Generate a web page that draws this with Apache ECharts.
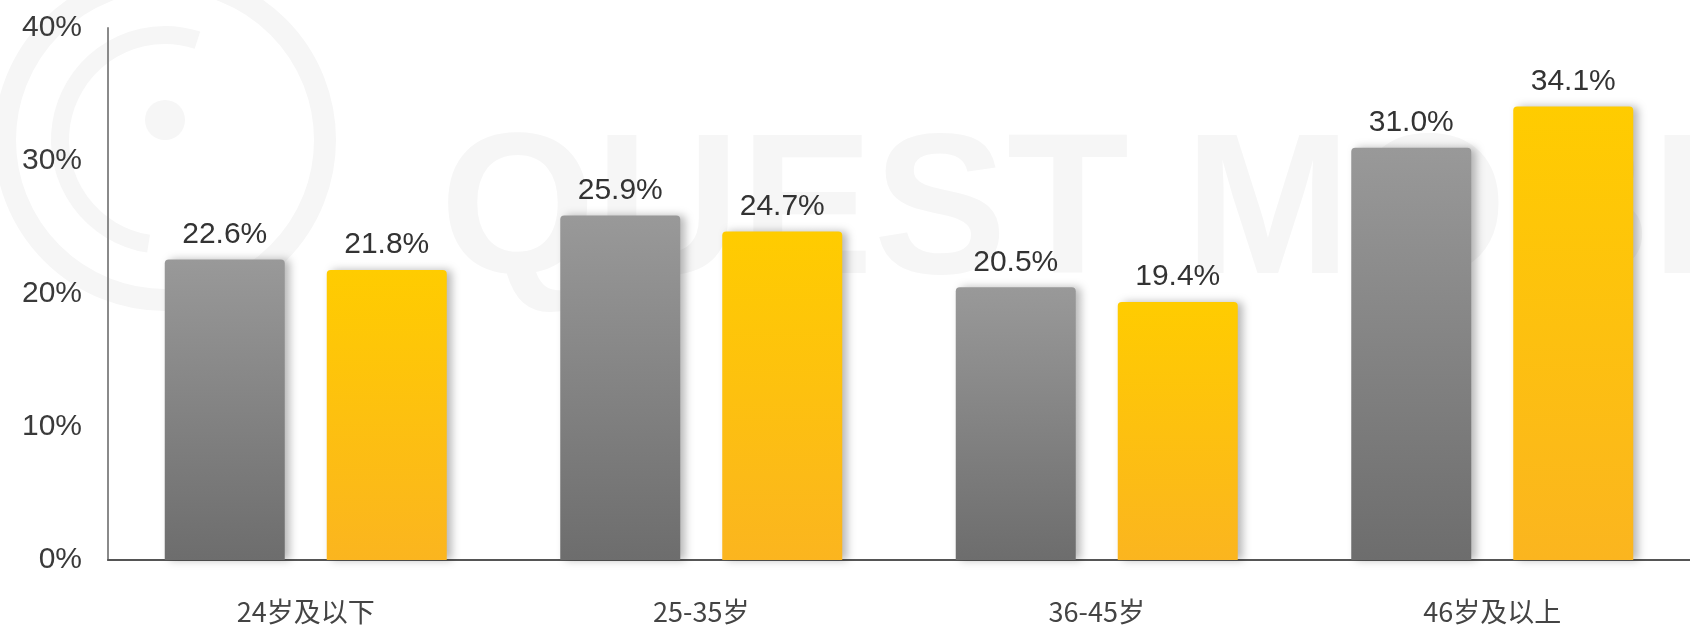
<!DOCTYPE html>
<html>
<head>
<meta charset="utf-8">
<script src="https://cdn.jsdelivr.net/npm/echarts@6/dist/echarts.min.js"></script>
<style>
  html, body { margin: 0; padding: 0; background: #ffffff; }
  #chart { width: 1690px; height: 625px; }
</style>
</head>
<body>
<div id="chart"></div>
<script>
// Age groups and the share of users in each (two series, percent)
const categories = ['24岁及以下', '25-35岁', '36-45岁', '46岁及以上'];
const seriesGray = [22.6, 25.9, 20.5, 31.0];
const seriesYellow = [21.8, 24.7, 19.4, 34.1];
const yTicks = [0, 10, 20, 30, 40];

const chart = echarts.init(document.getElementById('chart'), null, { renderer: 'canvas' });

const grad = (top, bottom) => new echarts.graphic.LinearGradient(0, 0, 0, 1, [
  { offset: 0, color: top },
  { offset: 1, color: bottom }
]);

const labelStyle = {
  show: true,
  position: 'top',
  distance: 10,
  fontFamily: 'Liberation Sans, Arial, sans-serif',
  fontSize: 30,
  color: '#333333',
  formatter: p => p.value.toFixed(1) + '%'
};

const barStyle = (top, bottom) => ({
  color: grad(top, bottom),
  borderRadius: [4, 4, 0, 0],
  shadowColor: 'rgba(0,0,0,0.28)',
  shadowBlur: 8,
  shadowOffsetX: 5,
  shadowOffsetY: 0
});

const wm = '#f6f6f6';

chart.setOption({
  backgroundColor: '#ffffff',
  animation: false,
  // faint brand watermark behind the plot
  graphic: [
    {
      type: 'circle', z: -10, silent: true,
      shape: { cx: 165, cy: 140, r: 160 },
      style: { fill: 'none', stroke: wm, lineWidth: 22 }
    },
    {
      type: 'arc', z: -10, silent: true,
      shape: { cx: 165, cy: 140, r: 105, startAngle: Math.PI * 0.55, endAngle: Math.PI * 1.6 },
      style: { fill: 'none', stroke: wm, lineWidth: 18 }
    },
    {
      type: 'circle', z: -10, silent: true,
      shape: { cx: 165, cy: 120, r: 20 },
      style: { fill: wm }
    },
    {
      type: 'text', z: -10, silent: true,
      left: 440, top: 118,
      style: {
        text: 'QUEST MOBILE',
        fontFamily: 'Liberation Sans, Arial, sans-serif',
        fontWeight: 'bold',
        fontSize: 200,
        fill: wm
      }
    }
  ],
  grid: { left: 108, top: 28, width: 1586, bottom: 65, containLabel: false },
  xAxis: {
    type: 'category',
    data: categories,
    axisLine: { show: true, lineStyle: { color: '#555555', width: 2 } },
    axisTick: { show: false },
    axisLabel: {
      margin: 38,
      fontFamily: 'Noto Sans CJK SC, sans-serif',
      fontSize: 27,
      color: '#444444'
    }
  },
  yAxis: {
    type: 'value',
    min: yTicks[0],
    max: yTicks[yTicks.length - 1],
    interval: 10,
    axisLine: { show: true, lineStyle: { color: '#8a8a8a', width: 2 } },
    axisTick: { show: false },
    splitLine: { show: false },
    axisLabel: {
      margin: 26,
      fontFamily: 'Liberation Sans, Arial, sans-serif',
      fontSize: 30,
      color: '#3a3a3a',
      formatter: v => v + '%'
    }
  },
  series: [
    {
      type: 'bar',
      data: seriesGray,
      barWidth: 120,
      barGap: '35%',
      itemStyle: barStyle('#999999', '#6d6d6d'),
      label: labelStyle
    },
    {
      type: 'bar',
      data: seriesYellow,
      barWidth: 120,
      barGap: '35%',
      itemStyle: barStyle('#ffcc00', '#fbb51f'),
      label: labelStyle
    }
  ]
});
</script>
</body>
</html>
